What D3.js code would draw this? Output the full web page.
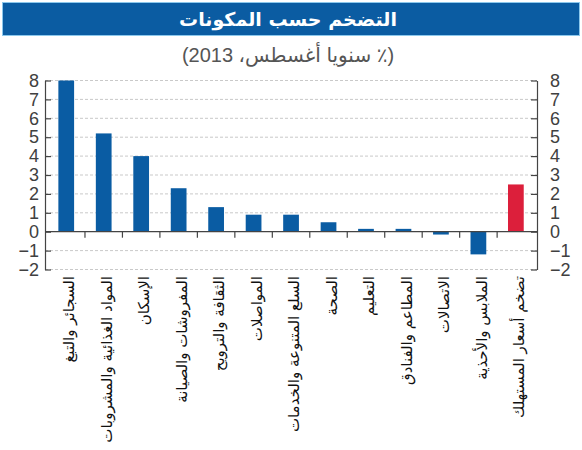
<!DOCTYPE html>
<html>
<head>
<meta charset="utf-8">
<script src="https://cdn.jsdelivr.net/npm/d3@7"></script>
<style>
  body { margin: 0; background: #fff; }
  svg { display: block; }
</style>
</head>
<body>
<div id="chart"></div>
<script>
// Inflation by component, % y/y, August 2013
const categories = [
	"السجائر والتبغ",
	"المواد الغذائية والمشروبات",
	"الإسكان",
	"المفروشات والصيانة",
	"الثقافة والترويح",
	"المواصلات",
	"السلع المتنوعة والخدمات",
	"الصحة",
	"التعليم",
	"المطاعم والفنادق",
	"الاتصالات",
	"الملابس والأحذية",
	"تضخم أسعار المستهلك",
];
const values = [8.0, 5.2, 4.0, 2.3, 1.3, 0.9, 0.9, 0.5, 0.15, 0.15, -0.15, -1.2, 2.5];
const yTicks = [-2, -1, 0, 1, 2, 3, 4, 5, 6, 7, 8];
const totalLabel = "تضخم أسعار المستهلك";
const title = "التضخم حسب المكونات";
const subtitle = "(٪ سنويا أغسطس، 2013)";

const width = 582;
const height = 450;
const axisLeftX = 45;
const axisRightX = 537;

const svg = d3
	.select("#chart")
	.append("svg")
	.attr("width", width)
	.attr("height", height);

// Title banner
svg.append("rect")
	.attr("x", 2.5)
	.attr("y", 2.5)
	.attr("width", 577)
	.attr("height", 33)
	.attr("fill", "#0b5ca2")
	.attr("stroke", "#8cc8ec")
	.attr("stroke-width", 1);

svg.append("text")
	.attr("x", 288)
	.attr("y", 26)
	.attr("text-anchor", "middle")
	.style("font-family", "'DejaVu Sans', sans-serif")
	.style("font-weight", "bold")
	.style("font-size", "19px")
	.attr("fill", "#fff")
	.text(title);

// right-to-left paragraph, like the source
svg.append("text")
	.attr("x", 288)
	.attr("y", 62)
	.attr("text-anchor", "middle")
	.attr("direction", "rtl")
	.style("font-family", "'Liberation Sans', 'DejaVu Sans', sans-serif")
	.style("font-size", "20px")
	.attr("fill", "#555")
	.text(subtitle);

// Scales
const y = d3.scaleLinear().domain([-2, 8]).range([269.5, 80.5]);

const x = d3
	.scaleBand()
	.domain(categories)
	.range([47.5, 534.6])
	.paddingInner(0.58)
	.paddingOuter(0.29);

const step = x.step();

// Dashed gridlines (all but zero)
svg.append("g")
	.selectAll("line")
	.data(yTicks.filter((d) => d !== 0))
	.join("line")
	.attr("x1", axisLeftX)
	.attr("x2", axisRightX)
	.attr("y1", (d) => y(d))
	.attr("y2", (d) => y(d))
	.attr("stroke", "#c9c9c9")
	.attr("stroke-width", 1)
	.attr("stroke-dasharray", "3,2");

// Bars
svg.append("g")
	.selectAll("rect")
	.data(categories)
	.join("rect")
	.attr("x", (d) => x(d))
	.attr("width", x.bandwidth())
	.attr("y", (d, i) => y(Math.max(0, values[i])))
	.attr("height", (d, i) => Math.abs(y(values[i]) - y(0)))
	.attr("fill", (d) => (d === totalLabel ? "#dc1f3b" : "#0a5ca3"));

// Zero line with category separator ticks
svg.append("line")
	.attr("x1", axisLeftX)
	.attr("x2", axisRightX)
	.attr("y1", y(0))
	.attr("y2", y(0))
	.attr("stroke", "#444")
	.attr("stroke-width", 1.2);

svg.append("g")
	.selectAll("line")
	.data(categories.slice(0, -1))
	.join("line")
	.attr("x1", (d) => x(d) + x.bandwidth() / 2 + step / 2)
	.attr("x2", (d) => x(d) + x.bandwidth() / 2 + step / 2)
	.attr("y1", y(0))
	.attr("y2", y(0) + 6)
	.attr("stroke", "#444")
	.attr("stroke-width", 1.2);

// Y axes, ticks pointing inward
const styleAxis = (g) => {
	g.select(".domain").attr("stroke", "#444").attr("stroke-width", 1.2);
	g.selectAll(".tick line").attr("stroke", "#444").attr("stroke-width", 1.2);
	g.selectAll(".tick text")
		.attr("fill", "#404040")
		.style("font-family", "'Liberation Sans', Arial, sans-serif")
		.style("font-size", "18px");
};

svg.append("g")
	.attr("transform", `translate(${axisLeftX},0)`)
	.call(
		d3.axisLeft(y).tickValues(yTicks).tickSizeInner(-6).tickSizeOuter(0).tickPadding(6)
	)
	.call(styleAxis);

svg.append("g")
	.attr("transform", `translate(${axisRightX},0)`)
	.call(
		d3.axisRight(y).tickValues(yTicks).tickSizeInner(-6).tickSizeOuter(0).tickPadding(13)
	)
	.call(styleAxis);

// Category labels, rotated, starting just below the plot
svg.append("g")
	.selectAll("text")
	.data(categories)
	.join("text")
	.attr(
		"transform",
		(d) => `translate(${x(d) + x.bandwidth() / 2 + 3}, 276) rotate(-90)`
	)
	.attr("text-anchor", "end")
	.attr("dy", "0.35em")
	.style("font-family", "'DejaVu Sans', sans-serif")
	.style("font-size", "15px")
	.attr("fill", "#111")
	.text((d) => d);
</script>
</body>
</html>
